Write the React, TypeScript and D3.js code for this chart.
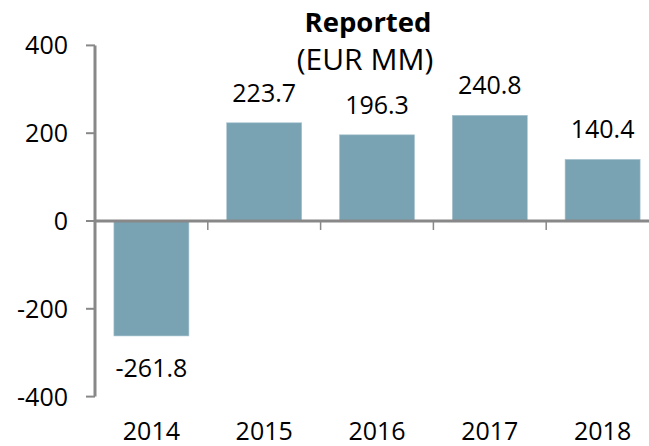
import React from 'react';
import * as d3 from 'd3';

const years = ['2014', '2015', '2016', '2017', '2018'];
const reported = [-261.8, 223.7, 196.3, 240.8, 140.4];
const yTicks = [-400, -200, 0, 200, 400];
const titleLines = ['Reported', '(EUR MM)'];

const W = 649;
const H = 446;
const FONT = '"Open Sans", sans-serif';
const FS = 25;
const AXIS = '#888888';
const BAR = '#79a3b3';

export default function App() {
  const x = d3.scaleBand<string>()
    .domain(years)
    .range([95, 95 + 5 * 112.8])
    .paddingInner(0.335)
    .paddingOuter(0.1675);

  const y = d3.scaleLinear()
    .domain([-400, 400])
    .range([396.6, 45.4]);

  const step = x.step();
  const x0 = x.range()[0];

  return (
    <svg width={W} height={H} style={{ position: 'absolute', left: 0, top: 0, background: '#fff' }}>
      {/* title */}
      <text x={368} y={32} textAnchor="middle" fontFamily={FONT} fontSize={27.5} fontWeight="bold" fill="#000">
        {titleLines[0]}
      </text>
      <text x={365} y={70} textAnchor="middle" fontFamily={FONT} fontSize={30} fill="#000">
        {titleLines[1]}
      </text>

      {/* bars */}
      {reported.map((v, i) => {
        const top = y(Math.max(0, v));
        const bottom = y(Math.min(0, v));
        return (
          <rect key={years[i]} x={x(years[i])} y={top} width={x.bandwidth()} height={bottom - top}
            fill={BAR} stroke="#a9c4cf" strokeWidth={0.6} />
        );
      })}

      {/* value labels */}
      {reported.map((v, i) => {
        const cx = (x(years[i]) as number) + x.bandwidth() / 2;
        const ly = v >= 0 ? y(v) - 21 : y(v) + 41;
        return (
          <text key={'l' + years[i]} x={cx} y={ly} textAnchor="middle" fontFamily={FONT} fontSize={FS} fill="#000">
            {v.toFixed(1)}
          </text>
        );
      })}

      {/* y axis */}
      <line x1={x0} x2={x0} y1={y(400)} y2={y(-400)} stroke={AXIS} strokeWidth={3} />
      {yTicks.map(t => (
        <g key={t}>
          <line x1={86} x2={x0} y1={y(t)} y2={y(t)} stroke={AXIS} strokeWidth={2} />
          <text x={68} y={y(t)} dy="0.36em" textAnchor="end" fontFamily={FONT} fontSize={FS} fill="#000">
            {t}
          </text>
        </g>
      ))}

      {/* zero line with category separators */}
      <line x1={x0} x2={W} y1={y(0)} y2={y(0)} stroke={AXIS} strokeWidth={3} />
      {years.slice(1).map((yr, i) => (
        <line key={'t' + yr} x1={x0 + step * (i + 1)} x2={x0 + step * (i + 1)} y1={y(0)} y2={y(0) + 9}
          stroke={AXIS} strokeWidth={1.5} />
      ))}

      {/* category labels */}
      {years.map(yr => (
        <text key={'c' + yr} x={(x(yr) as number) + x.bandwidth() / 2} y={440} textAnchor="middle"
          fontFamily={FONT} fontSize={FS} fill="#000">
          {yr}
        </text>
      ))}
    </svg>
  );
}
